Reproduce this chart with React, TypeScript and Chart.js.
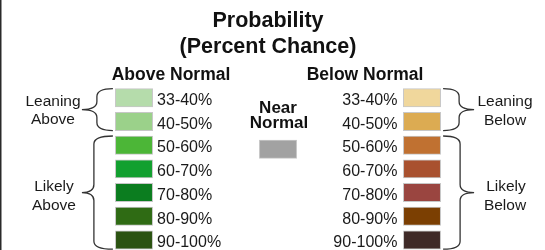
import React, { useEffect, useRef } from "react";
import { Chart, registerables } from "chart.js";

Chart.register(...registerables);

// ---- data ----
const COLUMNS = ["Above Normal", "Near Normal", "Below Normal"];
const BINS = ["33-40%", "40-50%", "50-60%", "60-70%", "70-80%", "80-90%", "90-100%"];
const ABOVE_COLORS = ["#b5dcab", "#9bd18a", "#4cb637", "#12a02f", "#0b7d1f", "#2f6b14", "#2b5311"];
const BELOW_COLORS = ["#f0d79c", "#dcab52", "#c07131", "#a9512f", "#9a4540", "#7b3f02", "#3f2a27"];
const NEAR_COLOR = "#a2a2a2";
const TITLE_LINES = ["Probability", "(Percent Chance)"];
const LEANING_ABOVE = ["Leaning", "Above"];
const LIKELY_ABOVE = ["Likely", "Above"];
const LEANING_BELOW = ["Leaning", "Below"];
const LIKELY_BELOW = ["Likely", "Below"];
const NEAR_TEXT = ["Near", "Normal"];

// ---- layout ----
const HALF = 0.386; // half swatch height in row units
const NEAR_ROW = 2.17;
const FONT = "'Liberation Sans', Arial, Helvetica, sans-serif";

function drawBrace(ctx: CanvasRenderingContext2D, xEnd: number, xV: number, xTip: number, yTop: number, yBot: number) {
  const yMid = (yTop + yBot) / 2;
  const r = 8;
  ctx.beginPath();
  ctx.moveTo(xEnd, yTop);
  ctx.quadraticCurveTo(xV, yTop, xV, yTop + r);
  ctx.lineTo(xV, yMid - r);
  ctx.quadraticCurveTo(xV, yMid, xTip, yMid);
  ctx.quadraticCurveTo(xV, yMid, xV, yMid + r);
  ctx.lineTo(xV, yBot - r);
  ctx.quadraticCurveTo(xV, yBot, xEnd, yBot);
  ctx.stroke();
}

const textPlugin = {
  id: "legendText",
  beforeDraw(chart: any) {
    const ctx = chart.ctx;
    ctx.save();
    ctx.fillStyle = "#ffffff";
    ctx.fillRect(0, 0, chart.width, chart.height);
    ctx.fillStyle = "#2a2a2a";
    ctx.fillRect(0, 0, 1.5, chart.height);
    ctx.restore();
  },
  afterDatasetsDraw(chart: any) {
    const ctx = chart.ctx;
    const x = chart.scales.x;
    const y = chart.scales.y;
    const aboveX = x.getPixelForValue(0);
    const nearX = x.getPixelForValue(1);
    const belowX = x.getPixelForValue(2);
    const half = 18.6;
    ctx.save();
    ctx.fillStyle = "#111";
    ctx.textBaseline = "alphabetic";

    // title
    ctx.textAlign = "center";
    ctx.font = `bold 21.5px ${FONT}`;
    ctx.fillText(TITLE_LINES[0], 268, 27);
    ctx.fillText(TITLE_LINES[1], 268, 53);

    // headers
    ctx.font = `bold 17.5px ${FONT}`;
    ctx.fillText(COLUMNS[0], 171, 80);
    ctx.fillText(COLUMNS[2], 365, 80);
    ctx.font = `bold 17px ${FONT}`;
    ctx.fillText(NEAR_TEXT[0], nearX, 112.5);
    ctx.fillText(NEAR_TEXT[1], nearX + 1, 128);

    // bin labels
    ctx.font = `16px ${FONT}`;
    ctx.fillStyle = "#1a1a1a";
    BINS.forEach((b, i) => {
      const cy = y.getPixelForValue(i);
      ctx.textAlign = "left";
      ctx.fillText(b, aboveX + half + 4.5, cy + 7.3);
      ctx.textAlign = "right";
      ctx.fillText(b, belowX - half - 6, cy + 7.3);
    });

    // brace labels
    ctx.font = `15.5px ${FONT}`;
    ctx.textAlign = "center";
    ctx.fillText(LEANING_ABOVE[0], 53, 105.5);
    ctx.fillText(LEANING_ABOVE[1], 53, 124);
    ctx.fillText(LIKELY_ABOVE[0], 54, 191);
    ctx.fillText(LIKELY_ABOVE[1], 54, 210);
    ctx.fillText(LEANING_BELOW[0], 505, 105.5);
    ctx.fillText(LEANING_BELOW[1], 505, 124.5);
    ctx.fillText(LIKELY_BELOW[0], 506, 191);
    ctx.fillText(LIKELY_BELOW[1], 505, 210);

    // braces
    ctx.strokeStyle = "#333";
    ctx.lineWidth = 1.3;
    const top0 = y.getPixelForValue(0 - HALF);
    const bot1 = y.getPixelForValue(1 + HALF);
    const top2 = y.getPixelForValue(2 - HALF);
    const bot6 = y.getPixelForValue(6 + HALF);
    const lEnd = aboveX - half - 2.5;
    drawBrace(ctx, lEnd, lEnd - 16, lEnd - 31, top0, bot1);
    drawBrace(ctx, lEnd, lEnd - 19, lEnd - 31, top2, bot6);
    const rEnd = belowX + half + 2.5;
    drawBrace(ctx, rEnd, rEnd + 16, rEnd + 31, top0, bot1);
    drawBrace(ctx, rEnd, rEnd + 17, rEnd + 31, top2, bot6);
    ctx.restore();
  },
};

export default function App() {
  const ref = useRef<HTMLCanvasElement | null>(null);
  useEffect(() => {
    document.body.style.margin = "0";
    const datasets: any[] = BINS.map((b, i) => ({
      label: b,
      data: [[i - HALF, i + HALF], null, [i - HALF, i + HALF]],
      backgroundColor: [ABOVE_COLORS[i], NEAR_COLOR, BELOW_COLORS[i]],
      borderColor: "rgba(130,130,130,0.45)",
      borderWidth: 1,
      borderSkipped: false,
      grouped: false,
      barThickness: 37.3,
    }));
    datasets.push({
      label: COLUMNS[1],
      data: [null, [NEAR_ROW - HALF, NEAR_ROW + HALF], null],
      backgroundColor: NEAR_COLOR,
      borderColor: "rgba(130,130,130,0.45)",
      borderWidth: 1,
      borderSkipped: false,
      grouped: false,
      barThickness: 37.3,
    });
    const chart = new Chart(ref.current as HTMLCanvasElement, {
      type: "bar",
      data: { labels: COLUMNS, datasets },
      options: {
        animation: false,
        responsive: false,
        layout: { padding: { left: 62, right: 51, top: 0, bottom: 0 } },
        plugins: { legend: { display: false }, tooltip: { enabled: false }, title: { display: false } },
        scales: {
          x: { type: "category", display: false, offset: true, grid: { display: false } },
          y: { type: "linear", display: false, reverse: true, min: -4.12, max: 6.42 },
        },
      },
      plugins: [textPlugin],
    });
    return () => chart.destroy();
  }, []);
  return <canvas ref={ref} width={545} height={250} style={{ display: "block" }} />;
}
